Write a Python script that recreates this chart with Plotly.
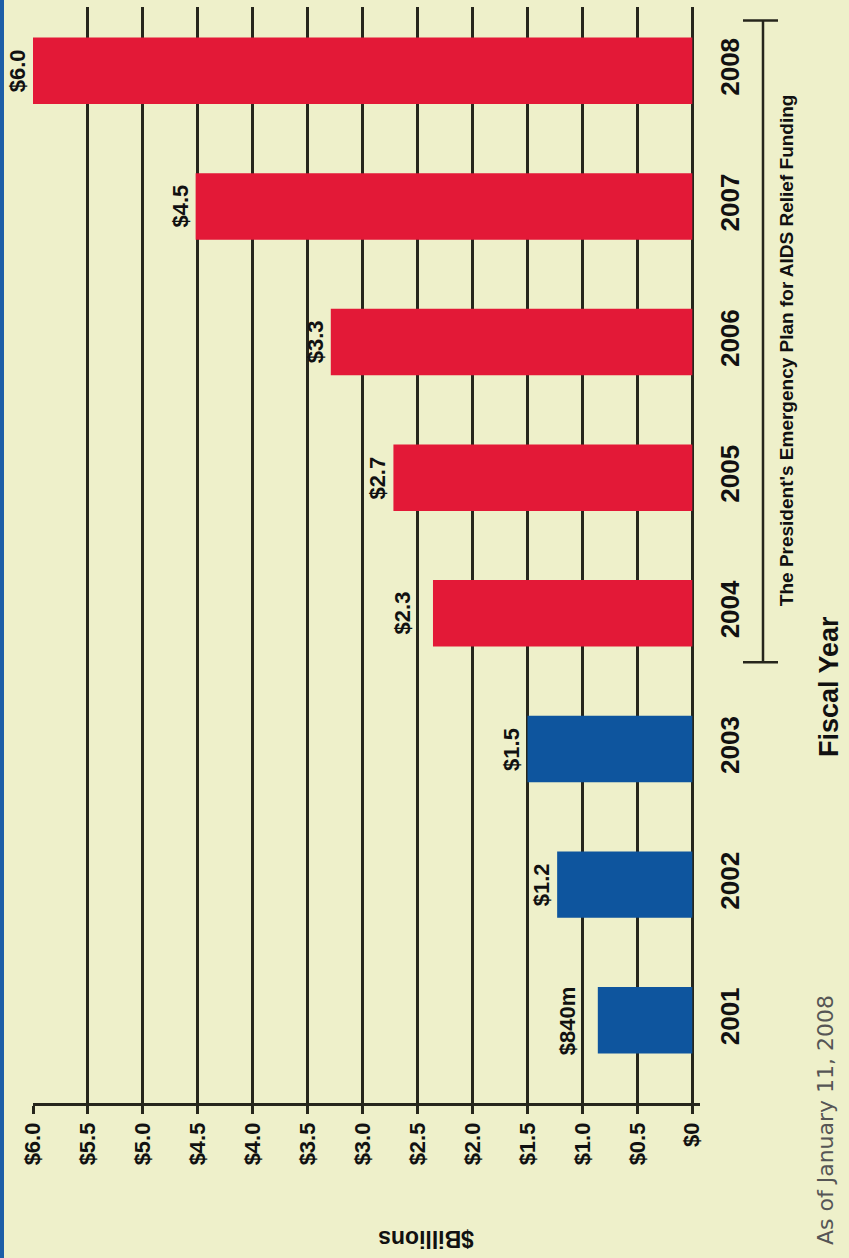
import plotly.graph_objects as go

# ---------------- data ----------------
years = ["2001", "2002", "2003", "2004", "2005", "2006", "2007", "2008"]
funding_billions = [0.86, 1.23, 1.50, 2.36, 2.72, 3.29, 4.52, 6.0]
value_labels = ["$840m", "$1.2", "$1.5", "$2.3", "$2.7", "$3.3", "$4.5", "$6.0"]
program = ["pre", "pre", "pre", "pepfar", "pepfar", "pepfar", "pepfar", "pepfar"]
tick_values = [0, 0.5, 1.0, 1.5, 2.0, 2.5, 3.0, 3.5, 4.0, 4.5, 5.0, 5.5, 6.0]
tick_labels = ["$0", "$0.5", "$1.0", "$1.5", "$2.0", "$2.5", "$3.0", "$3.5",
               "$4.0", "$4.5", "$5.0", "$5.5", "$6.0"]

# ---------------- style ----------------
W, H = 849, 1258
L, R, T, B = 33, 149, 7, 155
BG = "#eef0ca"
RED = "#e31937"
BLUE = "#0e559e"
INK = "#26261c"
FONT = "Liberation Sans, Arial, Helvetica, sans-serif"
color_map = {"pre": BLUE, "pepfar": RED}
bar_colors = [color_map[p] for p in program]


def px_x(px):
    return (px - L) / (W - L - R)


def px_y(py):
    return (H - B - py) / (H - T - B)


fig = go.Figure()
fig.add_trace(go.Bar(
    x=funding_billions,
    y=years,
    orientation="h",
    width=0.49,
    marker=dict(color=bar_colors, line=dict(width=0)),
    hoverinfo="skip",
))

# value labels: placed at the bar end, or just beyond the next gridline
# when that gridline would run through the label
annotations = []
for i, (v, lab) in enumerate(zip(funding_billions, value_labels)):
    anchor = v
    for g in tick_values:
        if v < g < v + 0.18:
            anchor = g
    annotations.append(dict(
        text=lab, x=anchor, y=i, xref="x", yref="y",
        textangle=-90, showarrow=False, xanchor="right", yanchor="middle",
        xshift=-1,
        font=dict(family=FONT, size=22, color="#111111", weight="bold"),
    ))

shapes = [
    # blue strip on left edge
    dict(type="rect", xref="paper", yref="paper",
         x0=px_x(0), x1=px_x(4), y0=px_y(0), y1=px_y(H),
         fillcolor="#1d5ea7", line=dict(width=0), layer="above"),
    # bracket for PEPFAR years
    dict(type="line", xref="paper", yref="y",
         x0=px_x(763), x1=px_x(763), y0=3 - 0.36, y1=7 + 0.37,
         line=dict(color=INK, width=2.5)),
    dict(type="line", xref="paper", yref="y",
         x0=px_x(743), x1=px_x(778), y0=7 + 0.37, y1=7 + 0.37,
         line=dict(color=INK, width=2.5)),
    dict(type="line", xref="paper", yref="y",
         x0=px_x(743), x1=px_x(778), y0=3 - 0.36, y1=3 - 0.36,
         line=dict(color=INK, width=2.5)),
]

annotations += [
    dict(text="The President's Emergency Plan for AIDS Relief Funding",
         xref="paper", yref="y", x=px_x(786), y=4.94,
         textangle=-90, showarrow=False, xanchor="center", yanchor="middle",
         font=dict(family=FONT, size=19, color="#111111", weight="bold")),
    dict(text="Fiscal Year", xref="paper", yref="paper",
         x=px_x(829), y=px_y(686), textangle=-90, showarrow=False,
         xanchor="center", yanchor="middle",
         font=dict(family=FONT, size=27, color="#111111", weight="bold")),
    dict(text="As of January 11, 2008", xref="paper", yref="paper",
         x=px_x(825), y=px_y(1120), textangle=-90, showarrow=False,
         xanchor="center", yanchor="middle",
         font=dict(family="DejaVu Sans, sans-serif", size=22, color="#555555")),
    dict(text="$Billions", xref="paper", yref="paper",
         x=px_x(426), y=px_y(1239), textangle=180, showarrow=False,
         xanchor="center", yanchor="middle",
         font=dict(family=FONT, size=23, color="#111111", weight="bold")),
]

fig.update_layout(
    width=W, height=H,
    margin=dict(l=L, r=R, t=T, b=B, pad=0),
    paper_bgcolor=BG, plot_bgcolor=BG,
    showlegend=False,
    shapes=shapes,
    annotations=annotations,
    xaxis=dict(
        range=[6.0, -0.07],
        tickmode="array", tickvals=tick_values, ticktext=tick_labels,
        tickangle=-90,
        tickfont=dict(family=FONT, size=22, color="#111111", weight="bold"),
        showgrid=True, gridcolor=INK, gridwidth=2.5,
        zeroline=False,
        showline=True, linecolor=INK, linewidth=2.5,
        ticks="outside", ticklen=8, tickwidth=2.5, tickcolor=INK,
        fixedrange=True,
    ),
    yaxis=dict(
        side="right",
        type="category",
        categoryorder="array", categoryarray=years,
        range=[-0.61, 7.47],
        tickangle=-90,
        tickfont=dict(family=FONT, size=26, color="#111111", weight="bold"),
        showgrid=False, zeroline=False, showline=False,
        ticks="", ticklabelstandoff=12,
        fixedrange=True,
    ),
)

fig.write_html(
    "out.html",
    config={"displayModeBar": False},
    post_script="document.body.style.margin='0';document.body.style.overflow='hidden';",
)
